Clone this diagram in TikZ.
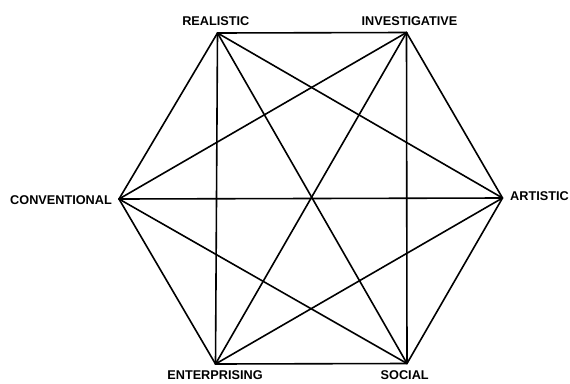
\documentclass[tikz,border=0pt]{standalone}
\usepackage{fontspec}
\setmainfont{Liberation Sans}
\usepackage{tikz}
\usetikzlibrary{positioning}

\begin{document}
\begin{tikzpicture}[
    x=1pt, y=-1pt,
    edge/.style={line width=1.6pt, line cap=round},
    lbl/.style={font=\fontsize{12.7}{14}\selectfont\bfseries, inner sep=0pt}
]
    \useasboundingbox (0,0) rectangle (570,383);
    % corners of the hexagon
    \coordinate (r) at (217.5,33);
    \coordinate (i) at (406.5,32.5);
    \coordinate (a) at (502.5,198);
    \coordinate (s) at (407,363.5);
    \coordinate (e) at (215.5,364);
    \coordinate (c) at (119,199);
    % every pair is joined
    \draw[edge] (r) -- (i);
    \draw[edge] (r) -- (a);
    \draw[edge] (r) -- (s);
    \draw[edge] (r) -- (e);
    \draw[edge] (r) -- (c);
    \draw[edge] (i) -- (a);
    \draw[edge] (i) -- (s);
    \draw[edge] (i) -- (e);
    \draw[edge] (i) -- (c);
    \draw[edge] (a) -- (s);
    \draw[edge] (a) -- (e);
    \draw[edge] (a) -- (c);
    \draw[edge] (s) -- (e);
    \draw[edge] (s) -- (c);
    \draw[edge] (e) -- (c);
    % labels
    \node[lbl, anchor=base] (rl) at (215.8,25.7) {REALISTIC};
    \node[lbl, anchor=base] (il) at (409.5,25) {INVESTIGATIVE};
    \node[lbl, anchor=base west] (al) at (510,200.7) {ARTISTIC};
    \node[lbl, anchor=base] (sl) at (404.7,379.5) {SOCIAL};
    \node[lbl, anchor=base] (el) at (215,379.5) {ENTERPRISING};
    \node[lbl, anchor=base east] (cl) at (112,204) {CONVENTIONAL};
\end{tikzpicture}
\end{document}
